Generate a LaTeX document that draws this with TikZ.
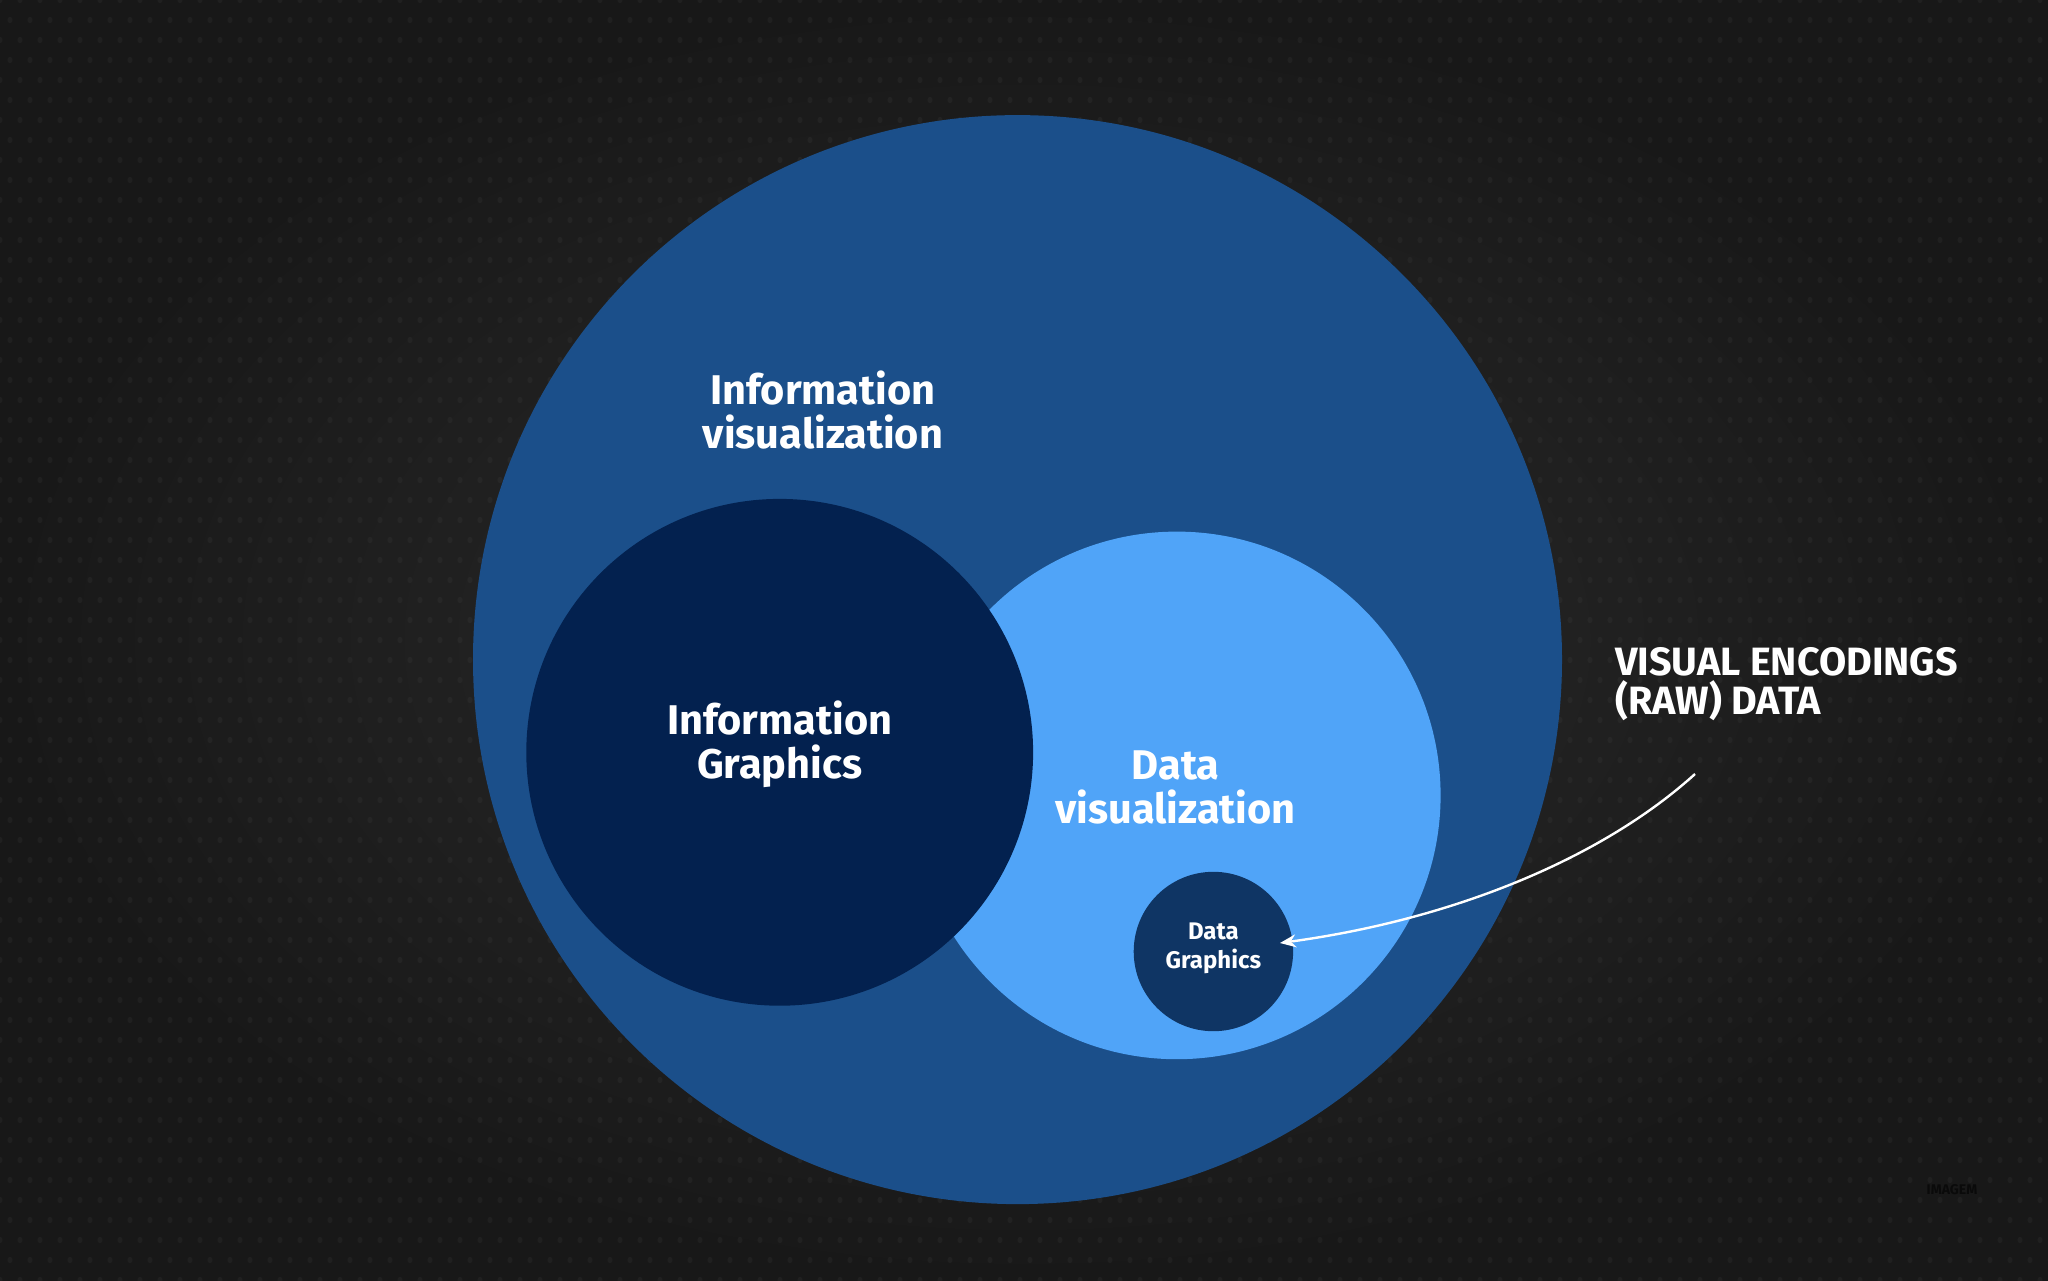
\documentclass[tikz,border=0pt]{standalone}
\usepackage{fontspec}
\setmainfont{Fira Sans}
\usetikzlibrary{arrows.meta}
\definecolor{bgin}{HTML}{2B2B2B}
\definecolor{bgout}{HTML}{181818}
\definecolor{outerc}{HTML}{1B4F8A}
\definecolor{infog}{HTML}{03214F}
\definecolor{datav}{HTML}{50A4F8}
\definecolor{datag}{HTML}{0F3564}
\definecolor{wmark}{HTML}{0A0A0A}
\begin{document}
\begin{tikzpicture}[x=1pt,y=-1pt,
  circ/.style={circle,inner sep=0pt,minimum size=#1},
  lab/.style={text=white,font=\bfseries\fontsize{41.5}{44}\selectfont,align=center,inner sep=0pt},
  smalllab/.style={text=white,font=\bfseries\fontsize{24}{29}\selectfont,align=center,inner sep=0pt},
  sidelab/.style={text=white,font=\bfseries\fontsize{39.5}{39}\selectfont,align=left,inner sep=0pt},
  pointer/.style={draw=white,line width=2.4pt,-{Stealth[length=16pt,width=13pt]}},
  texdot/.style={fill=white,fill opacity=0.035}]
\shade[inner color=bgin,outer color=bgout] (0,0) rectangle (2048,1280);
\useasboundingbox (0,0) rectangle (2048,1280);
\foreach \r in {0,...,64}{
  \pgfmathsetmacro{\off}{mod(\r,2)*10}
  \foreach \c in {0,...,102}{
    \fill[texdot] (\c*20+\off,\r*20) ellipse (2.6pt and 3.2pt);
  }
}
\node[circ=1089pt,fill=outerc] (iv) at (1017.5,659.6) {};
\node[circ=527.6pt,fill=datav] (dv) at (1176.8,795.4) {};
\node[circ=506.8pt,fill=infog] (ig) at (779.7,752.3) {};
\node[circ=159.4pt,fill=datag] (dg) at (1213.4,951.5) {};
\node[lab] (ivlab) at (823,410) {Information\\visualization};
\node[lab] (iglab) at (779.7,744.5) {Information\\Graphics};
\node[lab] (dvlab) at (1175.5,787.6) {Data\\visualization};
\node[smalllab] (dglab) at (1213.4,948) {Data\\Graphics};
\node[sidelab,anchor=west] (enc) at (1615,684) {VISUAL ENCODINGS\\(RAW) DATA};
\node[text=wmark,font=\bfseries\fontsize{14}{14}\selectfont,inner sep=0pt] (wm) at (1952,1190) {IMAGEM};
\coordinate (arrS) at (1695,774);
\coordinate (arrE) at (1280,943);
\draw[pointer] (arrS) .. controls (1600,860) and (1450,920) .. (arrE);
\end{tikzpicture}
\end{document}
